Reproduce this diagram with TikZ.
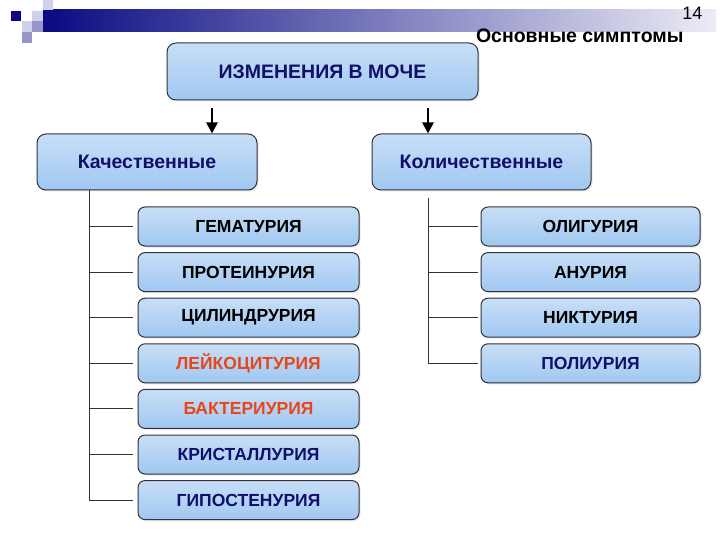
\documentclass[tikz,border=0pt]{standalone}
\usepackage{fontspec}
\setmainfont{Liberation Sans}
\usetikzlibrary{positioning,arrows.meta,shadows}
\definecolor{navy1}{RGB}{16,16,106}
\definecolor{band1}{RGB}{10,10,130}
\definecolor{band2}{RGB}{236,236,246}
\definecolor{sq1}{RGB}{208,208,234}
\definecolor{sq2}{RGB}{150,150,200}
\definecolor{edge1}{RGB}{50,50,60}
\definecolor{fillt}{RGB}{200,222,247}
\definecolor{fillm}{RGB}{240,246,253}
\definecolor{fillb}{RGB}{160,200,241}
\definecolor{alarm}{RGB}{232,70,25}

\tikzset{
  symbox/.style={rectangle, draw=edge1, line width=1pt, rounded corners=7pt,
    top color=fillt, middle color=fillm, bottom color=fillb,
    drop shadow={opacity=0.18, shadow xshift=1.5pt, shadow yshift=-1.5pt},
    inner sep=0pt, font=\fontsize{17.5}{17.5}\selectfont\bfseries},
  topbox/.style={symbox, rounded corners=9pt, text=navy1, font=\fontsize{19.5}{19.5}\selectfont\bfseries},
  subbox/.style={symbox, minimum height=39pt},
  downarrow/.style={line width=2.6pt, -{Triangle[length=11pt,width=11pt]}, shorten <=8pt},
  spine/.style={edge1, line width=0.9pt},
}

\begin{document}
\begin{tikzpicture}[x=1pt,y=-1pt]
  \def\stepy{45.6}
  \def\firsty{226.5}
  \useasboundingbox (0,0) rectangle (720,540);

  %header band
  \shade[left color=band1, right color=band2] (43,10) rectangle (716,32);
  \fill[band1] (11,11) rectangle (21,21);
  \fill[sq1] (32,11) rectangle (43,21);
  \fill[sq1] (43,0) rectangle (53,10);
  \fill[sq1] (22,21) rectangle (32,32);
  \fill[sq2] (32,21) rectangle (43,32);
  \fill[sq2] (22,32) rectangle (32,43);
  \node[anchor=base east, font=\fontsize{18}{18}\selectfont] (page) at (706,20) {14};
  \node[anchor=base east, font=\fontsize{19.5}{19.5}\selectfont\bfseries] (section) at (687,43) {Основные симптомы};

  %main boxes
  \node[topbox, minimum width=311pt, minimum height=57pt] (urine) at (322.5,71.5) {ИЗМЕНЕНИЯ В МОЧЕ};
  \node[topbox, minimum width=220pt, minimum height=56pt] (qual) at (147,162) {Качественные};
  \node[topbox, minimum width=219pt, minimum height=56pt] (quant) at (481.5,162) {Количественные};

  \coordinate (arrL) at (212,0);
  \coordinate (arrR) at (428,0);
  \draw[downarrow] (urine.south -| arrL) -- (qual.north -| arrL);
  \draw[downarrow] (urine.south -| arrR) -- (quant.north -| arrR);

  %qualitative
  \coordinate (spineL) at (89,0);
  \foreach \name/\txt/\col [count=\i] in {hema/ГЕМАТУРИЯ/black, prot/ПРОТЕИНУРИЯ/black,
      cyl/ЦИЛИНДРУРИЯ/black, leuk/ЛЕЙКОЦИТУРИЯ/alarm, bact/БАКТЕРИУРИЯ/alarm,
      cryst/КРИСТАЛЛУРИЯ/navy1, hypo/ГИПОСТЕНУРИЯ/navy1}{
    \node[subbox, minimum width=221pt, text=\col] (\name) at (248.5,{\firsty+(\i-1)*\stepy}) {\txt};
    \draw[spine, shorten >=5pt] (spineL |- \name) -- (\name.west);
  }
  \draw[spine] (qual.south -| spineL) -- (spineL |- hypo);

  %quantitative
  \coordinate (spineR) at (428,0);
  \foreach \name/\txt/\col [count=\i] in {olig/ОЛИГУРИЯ/black, anur/АНУРИЯ/black,
      nykt/НИКТУРИЯ/black, poly/ПОЛИУРИЯ/navy1}{
    \node[subbox, minimum width=219pt, text=\col] (\name) at (590.5,{\firsty+(\i-1)*\stepy}) {\txt};
    \draw[spine, shorten >=3pt] (spineR |- \name) -- (\name.west);
  }
  \draw[spine, shorten <=8pt] (quant.south -| spineR) -- (spineR |- poly);
\end{tikzpicture}
\end{document}
